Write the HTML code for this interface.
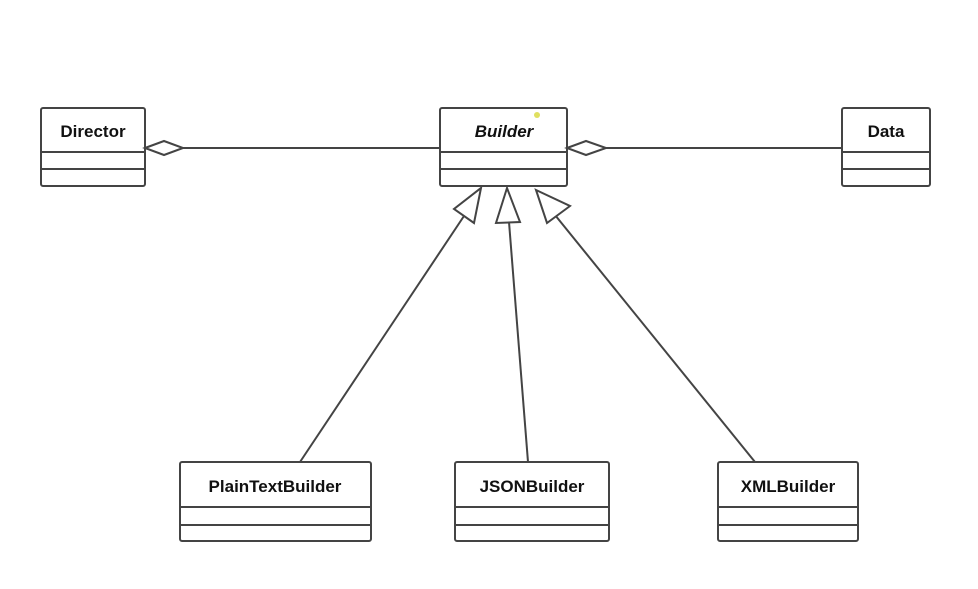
<!DOCTYPE html>
<html><head><meta charset="utf-8"><style>
body{margin:0;background:#fff}
svg text{font-family:"Liberation Sans",sans-serif;font-weight:bold;font-size:17px;fill:#111}
</style></head><body>
<svg width="978" height="584" viewBox="0 0 978 584">
<g fill="#fff" stroke="#444" stroke-width="2">
<rect x="41" y="108" width="104" height="78" rx="2"/>
<line x1="41" y1="152" x2="145" y2="152"/><line x1="41" y1="169" x2="145" y2="169"/>
<rect x="440" y="108" width="127" height="78" rx="2"/>
<line x1="440" y1="152" x2="567" y2="152"/><line x1="440" y1="169" x2="567" y2="169"/>
<rect x="842" y="108" width="88" height="78" rx="2"/>
<line x1="842" y1="152" x2="930" y2="152"/><line x1="842" y1="169" x2="930" y2="169"/>
<rect x="180" y="462" width="191" height="79" rx="2"/>
<line x1="180" y1="507" x2="371" y2="507"/><line x1="180" y1="525" x2="371" y2="525"/>
<rect x="455" y="462" width="154" height="79" rx="2"/>
<line x1="455" y1="507" x2="609" y2="507"/><line x1="455" y1="525" x2="609" y2="525"/>
<rect x="718" y="462" width="140" height="79" rx="2"/>
<line x1="718" y1="507" x2="858" y2="507"/><line x1="718" y1="525" x2="858" y2="525"/>
<!-- aggregation -->
<line x1="183" y1="148" x2="440" y2="148"/>
<polygon points="145,148 164,141 183,148 164,155"/>
<line x1="606" y1="148" x2="842" y2="148"/>
<polygon points="567,148 586,141 606,148 586,155"/>
<!-- generalization -->
<line x1="300" y1="462" x2="464" y2="216"/>
<polygon points="481,188 474,223 454,209"/>
<line x1="528" y1="462" x2="509" y2="222"/>
<polygon points="507,188 520,222 496,223"/>
<line x1="755" y1="462" x2="555" y2="215"/>
<polygon points="536,190 570,206 547,223"/>
</g>
<text x="93" y="137" text-anchor="middle">Director</text>
<text x="504" y="137" text-anchor="middle" font-style="italic">Builder</text>
<text x="886" y="137" text-anchor="middle">Data</text>
<text x="275" y="492" text-anchor="middle">PlainTextBuilder</text>
<text x="532" y="492" text-anchor="middle">JSONBuilder</text>
<text x="788" y="492" text-anchor="middle">XMLBuilder</text>
<circle cx="537" cy="115" r="3" fill="#e0e060"/>
</svg>
</body></html>
